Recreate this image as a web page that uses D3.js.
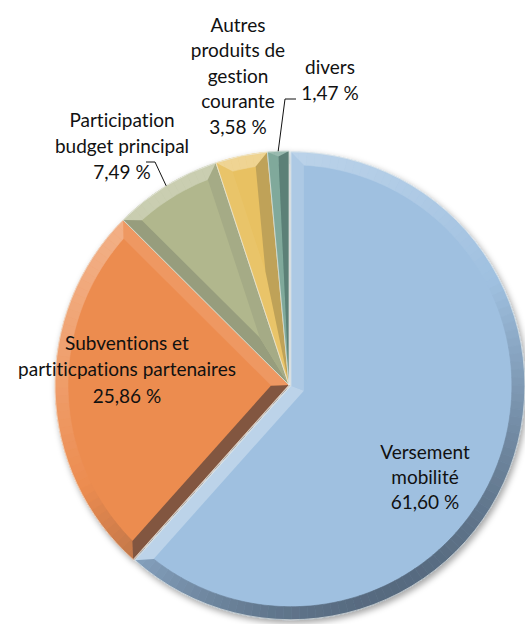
<!DOCTYPE html>
<html>
<head>
<meta charset="utf-8">
<script src="https://cdn.jsdelivr.net/npm/d3@7"></script>
<style>
  body { margin: 0; background: #fff; }
  text { font-family: Lato, "Open Sans", sans-serif; font-size: 19px; fill: #111;
         font-variant-ligatures: none; font-feature-settings: "liga" 0; }
</style>
</head>
<body>
<svg id="pie" width="525" height="624"></svg>
<script>
// data
var categories = ["Versement mobilité", "Subventions et partiticpations partenaires",
                  "Participation budget principal", "Autres produits de gestion courante", "divers"];
var values = [61.60, 25.86, 7.49, 3.58, 1.47];
var labelLines = [["Versement", "mobilité"],
                  ["Subventions et", "partiticpations partenaires"],
                  ["Participation", "budget principal"],
                  ["Autres", "produits de", "gestion", "courante"],
                  ["divers"]];
var colors = ["#9fc0e0", "#ec8c50", "#b1b78d", "#e8c162", "#6f9e8e"];

var svg = d3.select("#pie"),
    cx = 289, cy = 385,
    radius = 234,
    bevel = 13;

// label placement (centre x, centre y of first line, line step)
var labelPos = [[425, 452, 25], [127, 343, 26.5], [122, 120, 26], [238, 25, 25.5], [330, 67, 26]];
// leader lines for the small slices: elbow then end next to text
var leaders = {2: [[155, 162], [146, 162]], 4: [[285, 99], [296, 99]]};
var explode = {0: 2};

var pct = function(v) { return d3.format(".2f")(v).replace(".", ",") + " %"; };

var pie = d3.pie().sort(null).value(function(d) { return d; });
var arcs = pie(values);

var light = [-0.45, -0.9];
var ll = Math.hypot(light[0], light[1]);
light = [light[0] / ll, light[1] / ll];

function shade(col, n) {
  var s = n[0] * light[0] + n[1] * light[1];
  if (s > 0) return d3.interpolateRgb(col, "#ffffff")(s * 0.32);
  return d3.interpolateRgb(col, "#1c2430")(-s * 0.55);
}
function pt(a, r) { return [Math.sin(a) * r, -Math.cos(a) * r]; }

var defs = svg.append("defs");
var f = defs.append("filter").attr("id", "shadow")
    .attr("x", "-10%").attr("y", "-10%").attr("width", "120%").attr("height", "120%");
f.append("feDropShadow").attr("dx", 2).attr("dy", 3).attr("stdDeviation", 3)
    .attr("flood-color", "#000").attr("flood-opacity", 0.35);

var g = svg.append("g")
    .attr("transform", "translate(" + cx + "," + cy + ")")
    .attr("filter", "url(#shadow)");

var arcFull = d3.arc().innerRadius(0).outerRadius(radius);
var arcRing = d3.arc().innerRadius(radius - bevel).outerRadius(radius);

arcs.forEach(function(d, i) {
  var a0 = d.startAngle, a1 = d.endAngle, col = colors[i];
  var m = (a0 + a1) / 2, half = (a1 - a0) / 2;
  var off = explode[i] || 0;
  var o = pt(m, off);
  var sg = g.append("g").attr("class", "slice")
      .attr("transform", "translate(" + o[0] + "," + o[1] + ")");

  // face
  sg.append("path").attr("d", arcFull(d)).attr("fill", col);

  // outer rim bevel, shaded along its normal
  var steps = Math.max(2, Math.ceil((a1 - a0) / (Math.PI / 90)));
  for (var k = 0; k < steps; k++) {
    var s0 = a0 + (a1 - a0) * k / steps, s1 = a0 + (a1 - a0) * (k + 1) / steps;
    var c = shade(col, pt((s0 + s1) / 2, 1));
    sg.append("path")
        .attr("d", arcRing({startAngle: s0, endAngle: s1}))
        .attr("fill", c).attr("stroke", c).attr("stroke-width", 0.6);
  }

  // radial edge bevels
  var rIn = radius - bevel;
  var t = Math.sqrt(rIn * rIn - bevel * bevel);
  var u0 = pt(a0, 1), n0 = [Math.cos(a0), Math.sin(a0)];
  var u1 = pt(a1, 1), n1 = [-Math.cos(a1), -Math.sin(a1)];
  var P0 = [0, 0], P1 = pt(a0, radius), P2 = pt(a1, radius);
  var q0d = bevel / Math.sin(half);
  var c0 = shade(col, [-n0[0], -n0[1]]), c1 = shade(col, [-n1[0], -n1[1]]);
  var poly = d3.line();

  if (q0d < rIn - 2) {
    var Q0 = pt(m, q0d);
    var Q1 = [t * u0[0] + bevel * n0[0], t * u0[1] + bevel * n0[1]];
    var Q2 = [t * u1[0] + bevel * n1[0], t * u1[1] + bevel * n1[1]];
    sg.append("path").attr("d", poly([P0, P1, Q1, Q0]) + "Z").attr("fill", c0);
    sg.append("path").attr("d", poly([P0, Q0, Q2, P2]) + "Z").attr("fill", c1);
  } else {
    var R = pt(m, Math.min(q0d, radius - bevel * 0.4));
    sg.append("path").attr("d", poly([P0, P1, R]) + "Z").attr("fill", c0);
    sg.append("path").attr("d", poly([P0, R, P2]) + "Z").attr("fill", c1);
  }

  // thin light separator
  sg.append("path").attr("d", arcFull(d))
      .attr("fill", "none").attr("stroke", "#eef0ea").attr("stroke-width", 0.8)
      .attr("stroke-opacity", 0.8);
});

// leader lines
var edge = d3.arc().innerRadius(radius).outerRadius(radius);
Object.keys(leaders).forEach(function(k) {
  var c = edge.centroid(arcs[k]);
  var p = [[cx + c[0], cy + c[1]]].concat(leaders[k]);
  svg.append("path").attr("d", d3.line()(p))
      .attr("fill", "none").attr("stroke", "#111").attr("stroke-width", 1);
});

// labels
arcs.forEach(function(d, i) {
  var lp = labelPos[i];
  var lines = labelLines[i].concat([pct(values[i])]);
  var t = svg.append("text").attr("text-anchor", "middle");
  lines.forEach(function(s, j) {
    t.append("tspan").attr("x", lp[0]).attr("y", lp[1] + j * lp[2])
        .attr("dy", "0.35em").text(s);
  });
});
</script>
</body>
</html>
